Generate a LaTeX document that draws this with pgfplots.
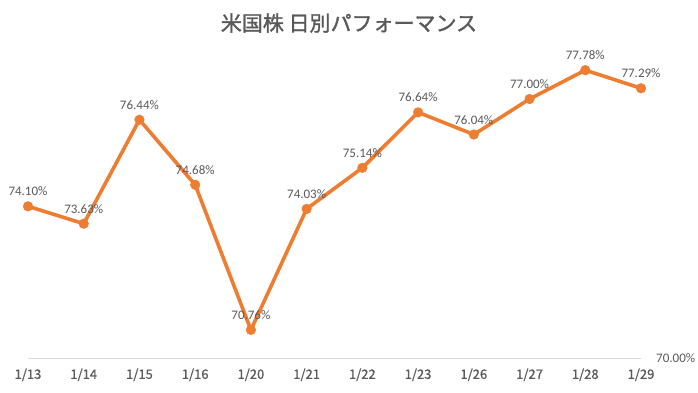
\documentclass[border=0pt]{standalone}
\usepackage{pgfplots}
\pgfplotsset{compat=1.18}
\usepackage{fontspec}
\setmainfont{Carlito}
\newfontfamily\jp{Noto Sans CJK JP}[FakeBold=0.8]
\newfontfamily\jpb{Noto Sans CJK JP}[FakeBold=1.5]
\definecolor{txt}{HTML}{595959}
\definecolor{org}{HTML}{ED7D31}
\definecolor{axg}{HTML}{D9D9D9}
\begin{document}
\begin{tikzpicture}[x=1pt,y=1pt]
\useasboundingbox (0,0) rectangle (698,392);
\node[text=txt,font=\jpb\fontsize{21}{24}\selectfont] at (349,369) {米国株 日別パフォーマンス};
\begin{axis}[
  at={(28pt,34pt)}, anchor=origin,
  scale only axis, width=613pt, height=296pt,
  xmin=0, xmax=11, ymin=70, ymax=78,
  clip=false,
  axis x line=bottom, axis y line=none,
  axis line style={axg, line width=0.8pt, -},
  xtick={0,...,11},
  xticklabels={1/13,1/14,1/15,1/16,1/20,1/21,1/22,1/23,1/26,1/27,1/28,1/29},
  major tick length=0pt,
  xticklabel style={font=\jp\fontsize{13}{15}\selectfont, text=txt, yshift=-7pt},
  ytick=\empty,
]
\addplot[org, line width=3.6pt, line join=round, mark=*, mark size=4.8pt, mark options={fill=org, draw=org, line width=0.5pt},
  nodes near coords={\pgfmathprintnumber[fixed,precision=2,fixed zerofill,assume math mode=true]{\pgfplotspointmeta}\%},
  every node near coord/.append style={font=\fontsize{13}{15}\selectfont, text=txt, anchor=south, inner sep=0pt, yshift=10pt},
  point meta=y] coordinates {
  (0,74.10) (1,73.63) (2,76.44) (3,74.68) (4,70.76) (5,74.03)
  (6,75.14) (7,76.64) (8,76.04) (9,77.00) (10,77.78) (11,77.29)
};
\node[anchor=west, text=txt, font=\fontsize{13}{15}\selectfont, inner sep=0pt] at (axis cs:11,70) [xshift=15pt] {70.00\%};
\end{axis}
\end{tikzpicture}
\end{document}
